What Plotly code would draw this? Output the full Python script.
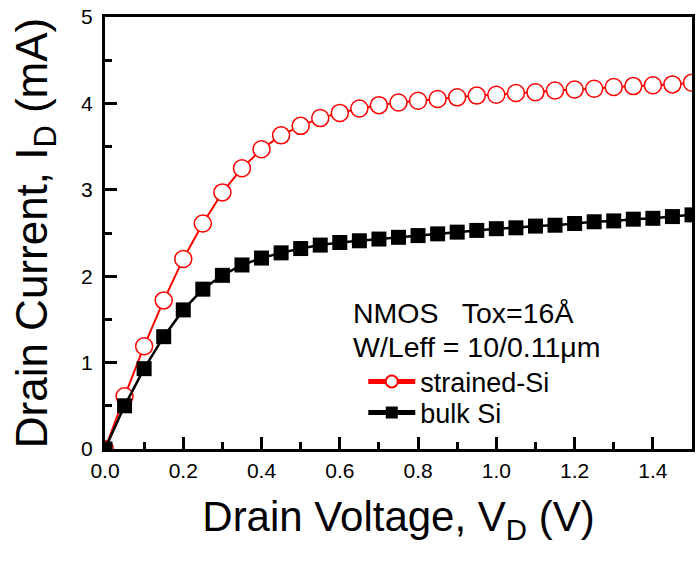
import plotly.graph_objects as go

vd = [0.00, 0.05, 0.10, 0.15, 0.20, 0.25, 0.30, 0.35, 0.40, 0.45, 0.50,
      0.55, 0.60, 0.65, 0.70, 0.75, 0.80, 0.85, 0.90, 0.95, 1.00,
      1.05, 1.10, 1.15, 1.20, 1.25, 1.30, 1.35, 1.40, 1.45, 1.50]

strained_si = [0.00, 0.61, 1.19, 1.72, 2.20, 2.61, 2.97, 3.25, 3.47, 3.63, 3.74,
               3.83, 3.89, 3.94, 3.98, 4.01, 4.03, 4.05, 4.07, 4.09, 4.10,
               4.12, 4.13, 4.15, 4.16, 4.17, 4.19, 4.20, 4.21, 4.22, 4.24]

bulk_si = [0.00, 0.50, 0.93, 1.30, 1.61, 1.85, 2.01, 2.13, 2.21, 2.27, 2.32,
           2.36, 2.39, 2.41, 2.43, 2.45, 2.47, 2.49, 2.51, 2.53, 2.55,
           2.56, 2.58, 2.59, 2.61, 2.63, 2.64, 2.66, 2.67, 2.69, 2.71]

x_range = [0, 1.5]
y_range = [0, 5]
x_tick_step = 0.2
y_tick_step = 1

FONT = "Liberation Sans, Arial, sans-serif"

fig = go.Figure()
fig.add_trace(go.Scatter(
    x=vd, y=strained_si, mode="lines+markers", name="strained-Si",
    line=dict(color="#ff0000", width=2),
    marker=dict(symbol="circle", size=17, color="white",
                line=dict(color="#ff0000", width=1.5)),
    legend="legend", xaxis="x", yaxis="y",
))
fig.add_trace(go.Scatter(
    x=vd, y=bulk_si, mode="lines+markers", name="bulk Si",
    line=dict(color="black", width=2.5),
    marker=dict(symbol="square", size=15, color="black",
                line=dict(color="black", width=0)),
    legend="legend2", xaxis="x2", yaxis="y2",
))

tickfont = dict(family=FONT, size=21, color="black")

fig.update_layout(
    # frame + ticks
    xaxis=dict(
        range=x_range, tickmode="linear", tick0=0, dtick=x_tick_step,
        showline=True, linecolor="black", linewidth=3, mirror=True,
        ticks="inside", ticklen=12, tickwidth=3, tickcolor="black",
        minor=dict(dtick=0.1, ticks="inside", ticklen=7, tickwidth=3,
                   tickcolor="black", showgrid=False),
        showgrid=False, zeroline=False, showticklabels=False,
    ),
    yaxis=dict(
        range=y_range, tickmode="linear", tick0=0, dtick=y_tick_step,
        showline=True, linecolor="black", linewidth=3, mirror=True,
        ticks="inside", ticklen=12, tickwidth=3, tickcolor="black",
        minor=dict(dtick=0.5, ticks="inside", ticklen=7, tickwidth=3,
                   tickcolor="black", showgrid=False),
        showgrid=False, zeroline=False, showticklabels=False,
    ),
    # labels + titles
    xaxis2=dict(
        range=x_range, overlaying="x", anchor="y2", side="bottom",
        tickmode="linear", tick0=0, dtick=x_tick_step, tickformat=".1f",
        showline=False, ticks="", showgrid=False, zeroline=False,
        tickfont=tickfont, ticklabelstandoff=7,
        title=dict(text="Drain Voltage, V<sub>D</sub> (V)",
                   font=dict(family=FONT, size=42, color="black"), standoff=20),
    ),
    yaxis2=dict(
        range=y_range, overlaying="y", anchor="x2", side="left",
        tickmode="linear", tick0=0, dtick=y_tick_step,
        showline=False, ticks="outside", ticklen=7, tickwidth=1,
        tickcolor="rgba(0,0,0,0)",
        showgrid=False, zeroline=False, tickfont=tickfont,
        title=dict(text="Drain Current, I<sub>D</sub> (mA)",
                   font=dict(family=FONT, size=44, color="black"), standoff=19),
    ),
)

fig.add_annotation(xref="paper", yref="paper", x=0.419, y=0.3155,
                   xanchor="left", yanchor="middle", showarrow=False,
                   text="NMOS   Tox=16Å",
                   font=dict(family=FONT, size=28.5, color="black"))
fig.add_annotation(xref="paper", yref="paper", x=0.419, y=0.2367,
                   xanchor="left", yanchor="middle", showarrow=False,
                   text="W/Leff = 10/0.11μm",
                   font=dict(family=FONT, size=28.5, color="black"))

legend_common = dict(xanchor="left", yanchor="top",
                     bgcolor="rgba(0,0,0,0)", borderwidth=0,
                     font=dict(family=FONT, size=27, color="black"),
                     itemsizing="constant", itemwidth=47)

fig.update_layout(
    width=697, height=563,
    margin=dict(l=105, r=2, t=17, b=114),
    paper_bgcolor="white", plot_bgcolor="white",
    showlegend=True,
    legend=dict(x=0.44, y=0.212, **legend_common),
    legend2=dict(x=0.44, y=0.140, **legend_common),
)

fig.write_html("out.html")
